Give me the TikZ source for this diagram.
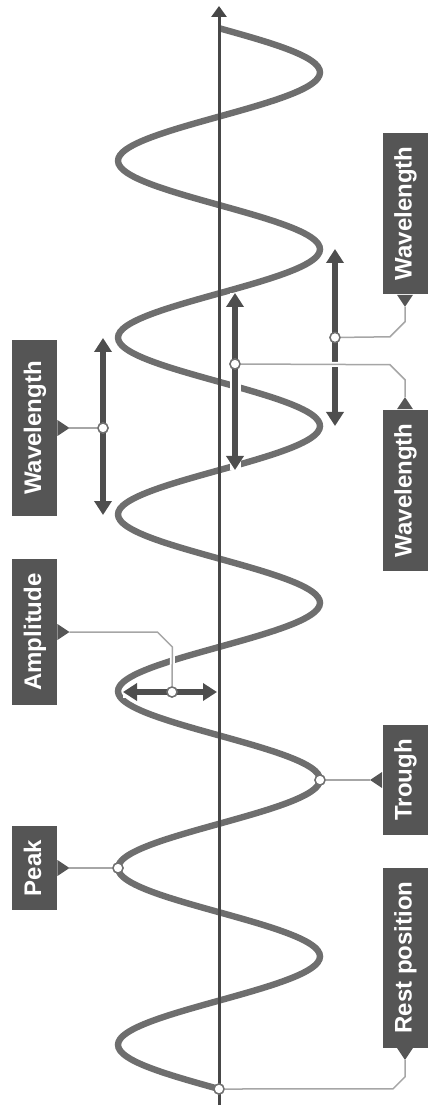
\documentclass[tikz,border=0pt]{standalone}
\usepackage{fontspec}
\setmainfont{Liberation Sans}
\usetikzlibrary{arrows.meta}

\definecolor{wavegray}{HTML}{6E6E6E}
\definecolor{axisgray}{HTML}{474747}
\definecolor{arrowgray}{HTML}{4E4E4E}
\definecolor{tagfill}{HTML}{555555}
\definecolor{linkgray}{HTML}{A6A6A6}
\definecolor{dotgray}{HTML}{707070}

\begin{document}
\begin{tikzpicture}[
x=0.5pt, y=-0.5pt, % one unit = one pixel of the picture, y downwards
wave/.style={draw=wavegray, line width=3.2pt},
dot/.style={circle, fill=white, draw=#1, line width=0.7pt, inner sep=0pt, minimum size=5pt},
tag/.style={rotate=90, fill=tagfill, text=white, font=\fontsize{12}{14}\selectfont\bfseries,
  minimum height=22.5pt, inner xsep=7pt, inner ysep=0pt, text height=9pt, text depth=2.5pt},
dimarrow/.style={{Triangle[length=7pt,width=8.5pt]}-{Triangle[length=7pt,width=8.5pt]},
  draw=arrowgray, line width=2.9pt, preaction={draw=white, line width=5.5pt, -}},
link/.style={draw=linkgray, line width=0.75pt, preaction={draw=white, line width=2.5pt}}
]
\useasboundingbox (0,0) rectangle (429,1111);

% --- Wave and rest axis ---
\draw[wave] plot[domain=0:6, samples=361, smooth] ({219-101*sin(360*\x)}, {1089-176.8*\x});

\coordinate (axis bot) at (219,1105);
\coordinate (axis top) at (219,6);
\draw[-{Triangle[length=5.5pt,width=7.5pt]}, draw=axisgray, line width=1.5pt] (axis bot) -- (axis top);

% --- Measuring arrows ---
\coordinate (wlL top) at (103,338);
\coordinate (wlL bot) at (103,515);
\coordinate (wlM top) at (235,293);
\coordinate (wlM bot) at (235,470);
\coordinate (wlR top) at (335,249);
\coordinate (wlR bot) at (335,426);
\coordinate (amp left) at (123,692);
\coordinate (amp right) at (217,692);

\draw[dimarrow] (wlL top) -- (wlL bot);
\draw[dimarrow] (wlM top) -- (wlM bot);
\draw[dimarrow] (wlR top) -- (wlR bot);
\draw[dimarrow] (amp left) -- (amp right);

% --- Labels ---
\node[tag, minimum width=88pt] (wlL tag) at (34.5,428) {Wavelength};
\node[tag] (amp tag) at (34.5,632) {Amplitude};
\node[tag] (peak tag) at (34.5,868) {Peak};
\node[tag] (wlR tag) at (405,213.5) {Wavelength};
\node[tag] (wlM tag) at (405,490.5) {Wavelength};
\node[tag] (trough tag) at (405,780) {Trough};
\node[tag] (rest tag) at (405,957.5) {Rest position};

% pointers of the labels
\fill[tagfill] ([yshift=4pt]wlL tag.south) -- ([xshift=6pt]wlL tag.south) coordinate (wlL tip) -- ([yshift=-4pt]wlL tag.south) -- cycle;
\fill[tagfill] ([yshift=4pt]amp tag.south) -- ([xshift=6pt]amp tag.south) coordinate (amp tip) -- ([yshift=-4pt]amp tag.south) -- cycle;
\fill[tagfill] ([yshift=4pt]peak tag.south) -- ([xshift=6pt]peak tag.south) coordinate (peak tip) -- ([yshift=-4pt]peak tag.south) -- cycle;
\fill[tagfill] ([xshift=-4pt]wlR tag.west) -- ([yshift=-6pt]wlR tag.west) coordinate (wlR tip) -- ([xshift=4pt]wlR tag.west) -- cycle;
\fill[tagfill] ([xshift=-4pt]wlM tag.east) -- ([yshift=6pt]wlM tag.east) coordinate (wlM tip) -- ([xshift=4pt]wlM tag.east) -- cycle;
\fill[tagfill] ([yshift=4pt]trough tag.north) -- ([xshift=-6pt]trough tag.north) coordinate (trough tip) -- ([yshift=-4pt]trough tag.north) -- cycle;
\fill[tagfill] ([xshift=-4pt]rest tag.west) -- ([yshift=-6pt]rest tag.west) coordinate (rest tip) -- ([xshift=4pt]rest tag.west) -- cycle;

% --- Marked points ---
\node[dot=dotgray] (wlL dot) at (103,428) {};
\node[dot=dotgray] (wlM dot) at (235,364) {};
\node[dot=dotgray] (wlR dot) at (335,337.5) {};
\node[dot=dotgray] (amp dot) at (172,692) {};
\node[dot=dotgray] (peak dot) at (118,868) {};
\node[dot=dotgray] (trough dot) at (320,780) {};
\node[dot=dotgray] (rest dot) at (219,1089) {};

% --- Leader lines ---
\draw[link] (wlL tip) -- (wlL dot);
\draw[link] (amp tip) -- ++(88,0) -- ++(15,15) -- (amp dot);
\draw[link] (peak tip) -- (peak dot);
\draw[link] (wlR tip) -- ++(0,15) -- ++(-15,15) -- (wlR dot);
\draw[link] (wlM tip) -- ++(0,-17.5) -- ++(-15,-15) -- (wlM dot);
\draw[link] (trough tip) -- (trough dot);
\draw[link] (rest tip) -- ++(0,17) -- ++(-12,12) -- (rest dot);

% dots again on top of the leader lines
\foreach \d in {wlL,wlM,wlR,amp,peak,trough,rest}
  \draw[fill=white, draw=dotgray, line width=0.7pt] (\d\space dot) circle[radius=2.5pt];

\end{tikzpicture}
\end{document}
